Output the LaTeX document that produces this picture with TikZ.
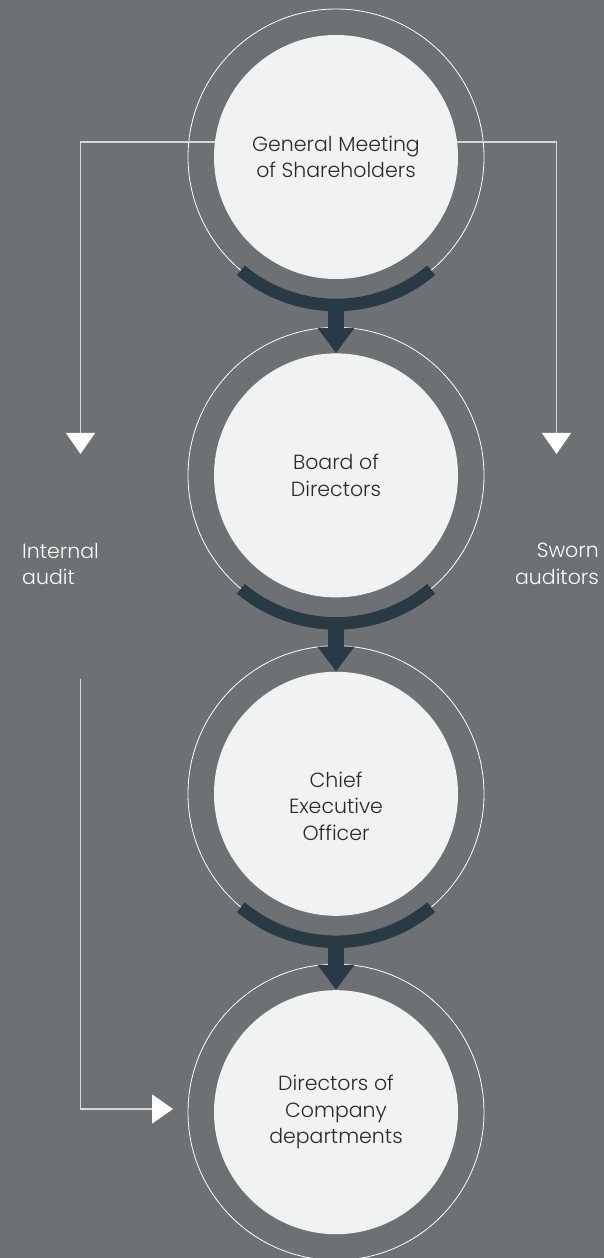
\documentclass[tikz,border=0pt]{standalone}
\usepackage{fontspec}
\setmainfont{Poppins}[UprightFont=* Light]
\usetikzlibrary{positioning, arrows.meta, calc}
\usepackage{xcolor}
\definecolor{canvas}{HTML}{6D7174}
\definecolor{disc}{HTML}{F1F2F2}
\definecolor{flow}{HTML}{2A3A45}
\definecolor{wirecol}{HTML}{D4D6D7}
\definecolor{ink}{HTML}{2A2A2A}
\tikzset{
  organ/.style={circle, fill=disc, inner sep=0pt, minimum size=244pt,
                align=center, text=ink, font=\fontsize{20.5}{26.5}\selectfont},
  halo/.style={draw=white, line width=0.8pt},
  band/.style={draw=flow, line width=12.5pt},
  drop/.style={draw=flow, line width=16pt, -{Triangle[width=35pt, length=25pt]}},
  link/.style={draw=wirecol, line width=1.4pt,
               -{Triangle[width=29pt, length=21pt, color=white]}},
  side/.style={text=white, inner sep=0pt, font=\fontsize{20.5}{26.5}\selectfont},
}

\begin{document}
\begin{tikzpicture}[x=1pt, y=1pt]

%% ====================  CANVAS  ====================

\useasboundingbox (0,0) rectangle (604,1258);
\fill[canvas] (0,0) rectangle (604,1258);

%% ====================  BODIES  ====================

\node[organ] (gms) at (336,1101) {General Meeting\\of Shareholders};
\node[organ, below=74pt of gms] (board) {Board of\\Directors};
\node[organ, below=74pt of board] (ceo) {\mbox{}\\[14pt]Chief\\Executive\\Officer};
\node[organ, below=74pt of ceo] (dirs) {Directors of\\Company\\departments};

%% outer rings
\draw[halo] (gms.center) circle[radius=148];
\draw[halo] (board.center) circle[radius=148];
\draw[halo] (ceo.center) circle[radius=148];
\draw[halo] (dirs.center) circle[radius=148];

%% ====================  SIDE LABELS  ====================

\node[side, anchor=west, align=left] (audit) at (22,694) {Internal\\audit};
\node[side, anchor=east, align=right] (sworn) at (599,694) {Sworn\\auditors};

%% ====================  CHAIN ARROWS  ====================

\draw[band] ([shift={(230:148)}]gms.center) arc[start angle=230, end angle=310, radius=148];
\draw[drop] ([yshift=-146]gms.center) -- (board.north);

\draw[band] ([shift={(230:148)}]board.center) arc[start angle=230, end angle=310, radius=148];
\draw[drop] ([yshift=-146]board.center) -- (ceo.north);

\draw[band] ([shift={(230:148)}]ceo.center) arc[start angle=230, end angle=310, radius=148];
\draw[drop] ([yshift=-146]ceo.center) -- (dirs.north);

%% ====================  CONTROL LINKS  ====================

\coordinate (ltip) at (80.5,804);
\coordinate (rtip) at (556.5,804);
\coordinate (lfoot) at (80.5,579);
\coordinate (btip) at (173,149);

\draw[link] (gms.173) -| (ltip);
\draw[link] (gms.7) -| (rtip);
\draw[link] (lfoot) |- (btip);

\end{tikzpicture}
\end{document}
